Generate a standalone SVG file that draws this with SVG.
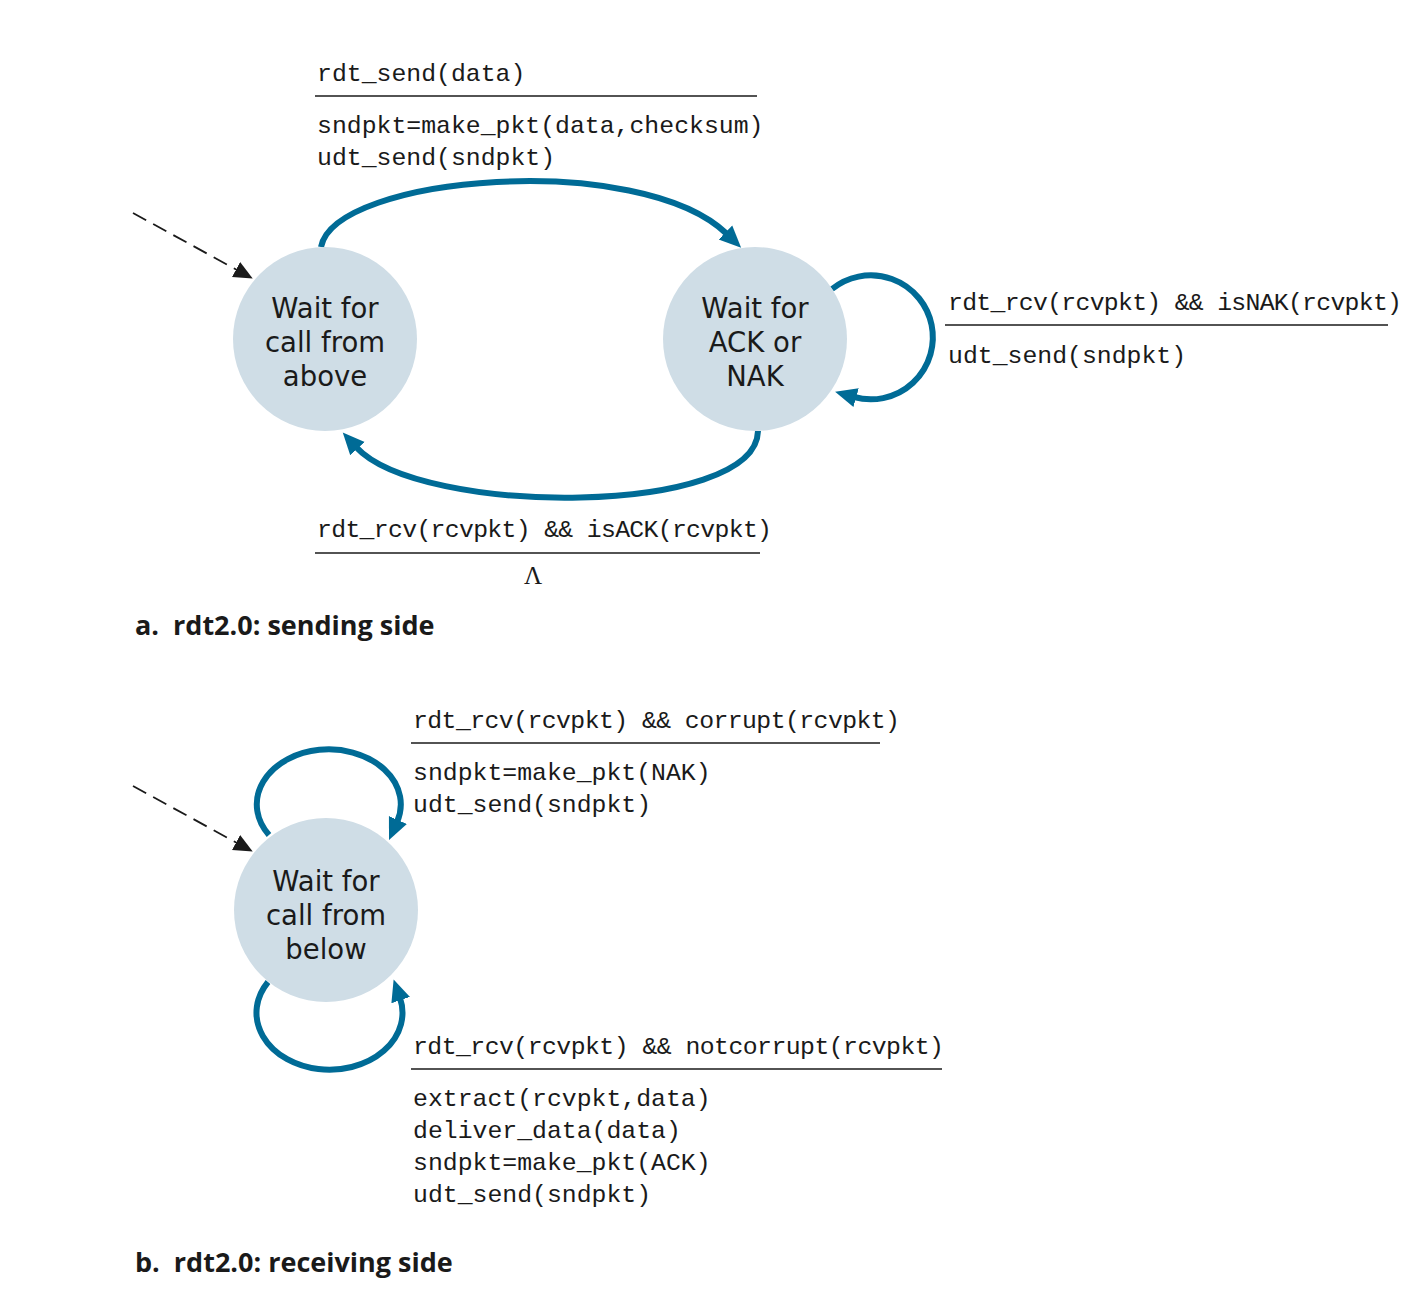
<svg xmlns="http://www.w3.org/2000/svg" width="1420" height="1308" viewBox="0 0 1420 1308">
<style>
.state{fill:#cfdde6;}
.st{font-family:"DejaVu Sans","Noto Sans",sans-serif;font-size:27.5px;fill:#1a1a1a;text-anchor:middle;}
.mono{font-family:"Liberation Mono","Courier New",monospace;font-size:24.8px;fill:#1a1a1a;}
.rule{stroke:#1a1a1a;stroke-width:1.6;}
.edge{fill:none;stroke:#006b96;stroke-width:6;}
.init{fill:none;stroke:#1a1a1a;stroke-width:1.8;stroke-dasharray:15 8;}
.cap{font-family:"Open Sans","Noto Sans",sans-serif;font-size:27px;font-weight:bold;fill:#1a1a1a;}
</style>
<defs>
<marker id="ab" markerUnits="userSpaceOnUse" markerWidth="24" markerHeight="24" refX="2" refY="0" viewBox="0 -10 22 20" orient="auto">
<path d="M0,-9 L20,0 L0,9 Z" fill="#006b96"/>
</marker>
<marker id="ak" markerUnits="userSpaceOnUse" markerWidth="20" markerHeight="20" refX="1" refY="0" viewBox="0 -9 19 18" orient="auto">
<path d="M0,-8 L18,0 L0,8 Z" fill="#1a1a1a"/>
</marker>
</defs>

<g id="connectors">
<path class="init" d="M133 213 L237 270" marker-end="url(#ak)"/>
<path class="edge" d="M321 247 C335 175,640 150,727 234" marker-end="url(#ab)"/>
<path class="edge" d="M758 431 C756 517,420 517,356 447" marker-end="url(#ab)"/>
<path class="edge" d="M832 289 A62 62 0 1 1 854 397" marker-end="url(#ab)"/>
<path class="init" d="M133 786 L237 843" marker-end="url(#ak)"/>
<path class="edge" d="M269 835 A72 55 0 1 1 397 822" marker-end="url(#ab)"/>
<path class="edge" d="M268 982 A73 57 0 1 0 400 998" marker-end="url(#ab)"/>
</g>

<g id="node-wait-above">
<circle class="state" cx="325" cy="339" r="92"/>
<text class="st" x="325" y="318">Wait for</text>
<text class="st" x="325" y="352">call from</text>
<text class="st" x="325" y="386">above</text>
</g>

<g id="node-wait-ack">
<circle class="state" cx="755" cy="339" r="92"/>
<text class="st" x="755" y="318">Wait for</text>
<text class="st" x="755" y="352">ACK or</text>
<text class="st" x="755" y="386">NAK</text>
</g>

<g id="node-wait-below">
<circle class="state" cx="326" cy="910" r="92"/>
<text class="st" x="326" y="891">Wait for</text>
<text class="st" x="326" y="925">call from</text>
<text class="st" x="326" y="959">below</text>
</g>

<g id="label-send">
<text class="mono" x="317" y="81">rdt_send(data)</text>
<line class="rule" x1="315" y1="96" x2="757" y2="96"/>
<text class="mono" x="317" y="133">sndpkt=make_pkt(data,checksum)</text>
<text class="mono" x="317" y="165">udt_send(sndpkt)</text>
</g>

<g id="label-nak">
<text class="mono" x="948" y="310" textLength="454" lengthAdjust="spacing">rdt_rcv(rcvpkt) &amp;&amp; isNAK(rcvpkt)</text>
<line class="rule" x1="945" y1="325" x2="1388" y2="325"/>
<text class="mono" x="948" y="363">udt_send(sndpkt)</text>
</g>

<g id="label-ack">
<text class="mono" x="317" y="537" textLength="455" lengthAdjust="spacing">rdt_rcv(rcvpkt) &amp;&amp; isACK(rcvpkt)</text>
<line class="rule" x1="315" y1="553" x2="760" y2="553"/>
<text x="533" y="584" font-family="Liberation Serif,serif" font-size="25" fill="#1a1a1a" text-anchor="middle">Λ</text>
</g>

<text class="cap" x="135" y="635" xml:space="preserve">a.  rdt2.0: sending side</text>

<g id="label-corrupt">
<text class="mono" x="413" y="728" textLength="487" lengthAdjust="spacing">rdt_rcv(rcvpkt) &amp;&amp; corrupt(rcvpkt)</text>
<line class="rule" x1="411" y1="743" x2="880" y2="743"/>
<text class="mono" x="413" y="780">sndpkt=make_pkt(NAK)</text>
<text class="mono" x="413" y="812">udt_send(sndpkt)</text>
</g>

<g id="label-notcorrupt">
<text class="mono" x="413" y="1054" textLength="531" lengthAdjust="spacing">rdt_rcv(rcvpkt) &amp;&amp; notcorrupt(rcvpkt)</text>
<line class="rule" x1="411" y1="1069" x2="942" y2="1069"/>
<text class="mono" x="413" y="1106">extract(rcvpkt,data)</text>
<text class="mono" x="413" y="1138">deliver_data(data)</text>
<text class="mono" x="413" y="1170">sndpkt=make_pkt(ACK)</text>
<text class="mono" x="413" y="1202">udt_send(sndpkt)</text>
</g>

<text class="cap" x="135" y="1272" xml:space="preserve">b.  rdt2.0: receiving side</text>
</svg>
